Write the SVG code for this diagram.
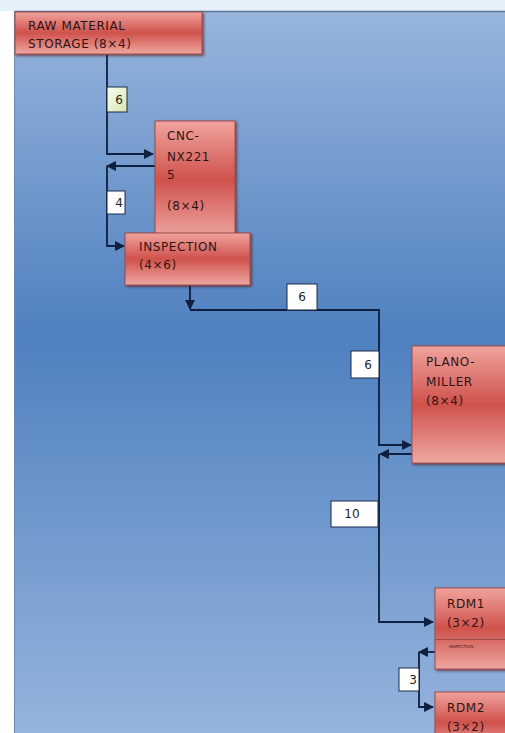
<svg xmlns="http://www.w3.org/2000/svg" width="505" height="733" viewBox="0 0 505 733">
<defs>
<linearGradient id="bg" x1="0" y1="0" x2="0" y2="1">
<stop offset="0" stop-color="#97b5dc"/>
<stop offset="0.45" stop-color="#4f80c0"/>
<stop offset="1" stop-color="#95b4dc"/>
</linearGradient>
<linearGradient id="node" x1="0" y1="0" x2="0" y2="1">
<stop offset="0" stop-color="#f0a39d"/>
<stop offset="0.5" stop-color="#cf524c"/>
<stop offset="1" stop-color="#efa7a1"/>
</linearGradient>
<linearGradient id="lbl6" x1="0" y1="0" x2="1" y2="1">
<stop offset="0" stop-color="#fbfdf0"/>
<stop offset="1" stop-color="#d8e6b0"/>
</linearGradient>
<marker id="ah" viewBox="0 0 10 10" refX="9" refY="5" markerWidth="6" markerHeight="5.5" orient="auto" markerUnits="strokeWidth">
<path d="M0,0 L10,5 L0,10 z" fill="#0f1f3f"/>
</marker>
<filter id="sh" x="-10%" y="-10%" width="130%" height="130%">
<feDropShadow dx="1.5" dy="1.5" stdDeviation="0.8" flood-color="#5a1a1a" flood-opacity="0.7"/>
</filter>
</defs>
<style>
.node rect{fill:url(#node);stroke:#a04a48;stroke-width:1;filter:url(#sh)}
.t{font-family:"DejaVu Sans",Verdana,sans-serif;font-size:12px;fill:#2e1414;letter-spacing:0.6px}
.conn path{fill:none;stroke:#0f1f3f;stroke-width:1.8}
.lbl rect{fill:#ffffff;stroke:#1a2a4a;stroke-width:1}
.lt{font-family:"DejaVu Sans",Verdana,sans-serif;font-size:12px;fill:#222;text-anchor:middle}
</style>
<rect x="0" y="0" width="505" height="733" fill="#ffffff"/>
<rect x="0" y="0" width="505" height="11" fill="#e6f0fa"/>
<rect x="14" y="11" width="491" height="722" fill="url(#bg)"/>
<line x1="14" y1="11.5" x2="505" y2="11.5" stroke="#5b7696" stroke-width="1.5"/>
<line x1="14.5" y1="11" x2="14.5" y2="733" stroke="#6d88aa" stroke-width="1"/>

<g id="connectors" class="conn">
<path d="M107,54 V154 H153" marker-end="url(#ah)"/>
<path d="M155,166 H107" marker-end="url(#ah)"/>
<path d="M107,166 V246 H124" marker-end="url(#ah)"/>
<path d="M190,285 V309"/>
<path d="M190,298 V309" marker-end="url(#ah)"/>
<path d="M190,310 H379 V445 H411" marker-end="url(#ah)"/>
<path d="M413,454 H380" marker-end="url(#ah)"/>
<path d="M379,454 V622 H433" marker-end="url(#ah)"/>
<path d="M435,652 H419" marker-end="url(#ah)"/>
<path d="M419,652 V707 H433" marker-end="url(#ah)"/>
</g>

<g id="labels">
<g class="lbl" id="lbl-6a"><rect x="107" y="87" width="20" height="25" style="fill:url(#lbl6)"/><text class="lt" x="119" y="104">6</text></g>
<g class="lbl" id="lbl-4"><rect x="107" y="191" width="18" height="23"/><text class="lt" x="119" y="207">4</text></g>
<g class="lbl" id="lbl-6b"><rect x="287" y="284" width="30" height="26"/><text class="lt" x="302" y="301">6</text></g>
<g class="lbl" id="lbl-6c"><rect x="351" y="351" width="28" height="27"/><text class="lt" x="368" y="369">6</text></g>
<g class="lbl" id="lbl-10"><rect x="331" y="501" width="47" height="26"/><text class="lt" x="352" y="518">10</text></g>
<g class="lbl" id="lbl-3"><rect x="399" y="668" width="20" height="23"/><text class="lt" x="413" y="684">3</text></g>
</g>

<g id="raw" class="node">
<rect x="15" y="12" width="187" height="42"/>
<text class="t" x="28" y="30">RAW MATERIAL</text>
<text class="t" x="28" y="48">STORAGE (8×4)</text>
</g>
<g id="cnc" class="node">
<rect x="155" y="121" width="80" height="118"/>
<text class="t" x="167" y="140">CNC-</text>
<text class="t" x="167" y="161">NX221</text>
<text class="t" x="167" y="179">5</text>
<text class="t" x="167" y="210">(8×4)</text>
</g>
<g id="inspection" class="node">
<rect x="125" y="233" width="125" height="52"/>
<text class="t" x="139" y="251">INSPECTION</text>
<text class="t" x="139" y="269">(4×6)</text>
</g>
<g id="plano" class="node">
<rect x="412" y="346" width="100" height="117"/>
<text class="t" x="426" y="366">PLANO-</text>
<text class="t" x="426" y="386">MILLER</text>
<text class="t" x="426" y="405">(8×4)</text>
</g>
<g id="rdm1" class="node">
<rect x="435" y="588" width="80" height="81"/>
<line x1="435" y1="639.5" x2="505" y2="639.5" stroke="#a04a48" stroke-width="1"/>
<text class="t" x="447" y="608">RDM1</text>
<text class="t" x="447" y="627">(3×2)</text>
<text x="449" y="648" font-family="DejaVu Sans, sans-serif" font-size="4" fill="#3a1c1c">INSPECTION</text>
</g>
<g id="rdm2" class="node">
<rect x="435" y="692" width="80" height="60"/>
<text class="t" x="447" y="712">RDM2</text>
<text class="t" x="447" y="731">(3×2)</text>
</g>
</svg>
